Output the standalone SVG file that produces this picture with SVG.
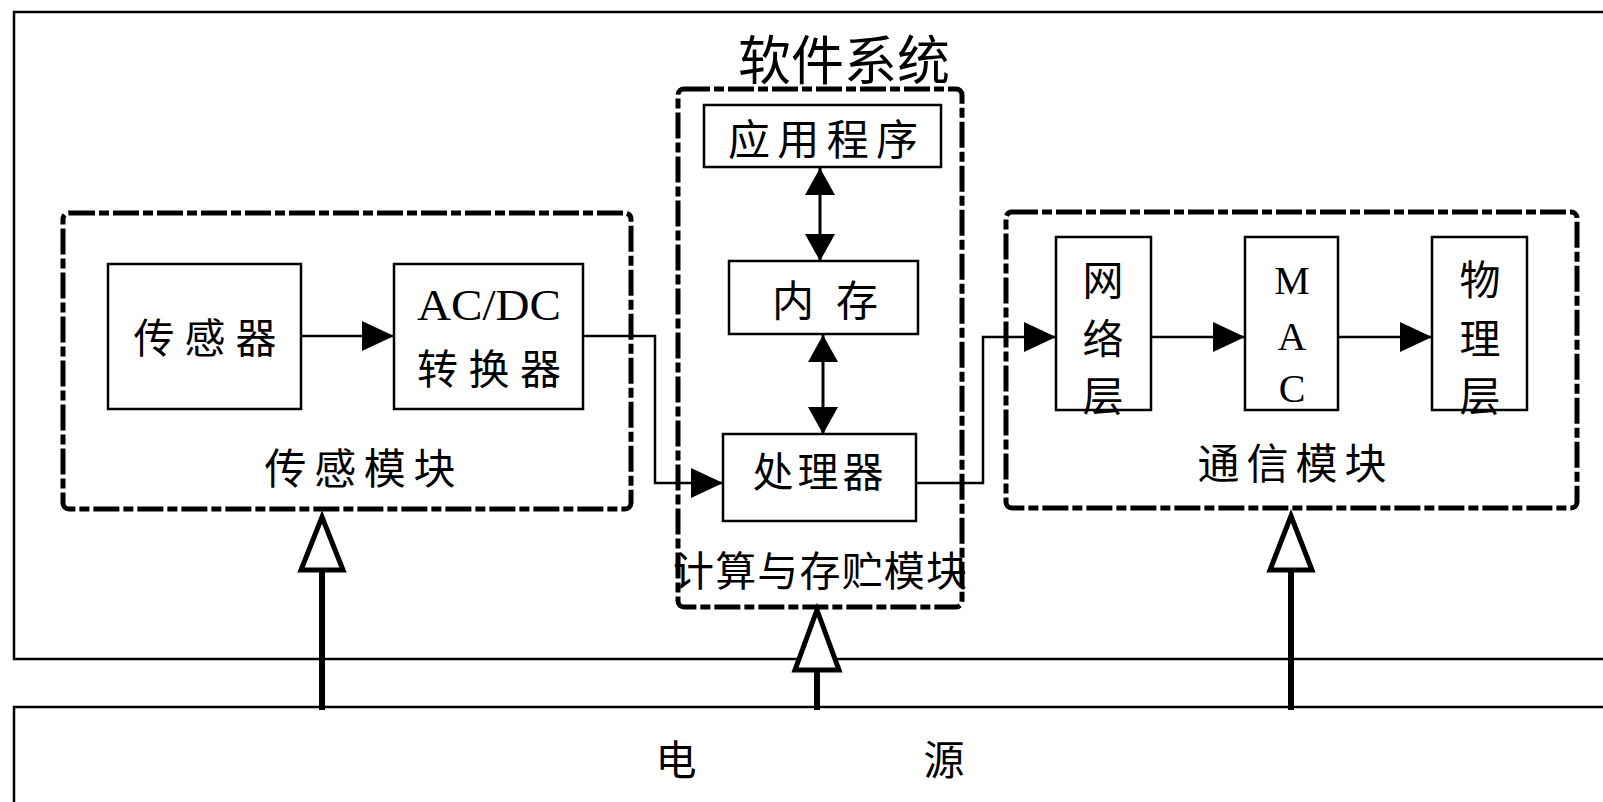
<svg xmlns="http://www.w3.org/2000/svg" width="1603" height="802" viewBox="0 0 1603 802">
<style>
.frame{fill:none;stroke:#000;stroke-width:2.5}
.mod{fill:none;stroke:#000;stroke-width:5;stroke-dasharray:26 4 10 4}
.box{fill:#fff;stroke:#000;stroke-width:2.5}
.cn{font-family:"Noto Sans CJK SC","Noto Sans CJK JP",sans-serif;fill:#000;dominant-baseline:central;text-anchor:middle}
.lat{font-family:"Liberation Serif",serif;fill:#000;dominant-baseline:central;text-anchor:middle}
.line{fill:none;stroke:#000;stroke-width:2.5}
.dbl{fill:none;stroke:#000;stroke-width:3}
.pstem{fill:none;stroke:#000;stroke-width:6}
.phead{fill:#fff;stroke:#000;stroke-width:5;stroke-linejoin:miter}
</style>
<defs>
<marker id="ah" markerUnits="userSpaceOnUse" markerWidth="34" markerHeight="32" refX="32" refY="16" orient="auto-start-reverse" viewBox="0 0 34 32">
<path d="M0,1 L32,16 L0,31 z" fill="#000"/>
</marker>
<marker id="ah2" markerUnits="userSpaceOnUse" markerWidth="28" markerHeight="32" refX="27" refY="16" orient="auto-start-reverse" viewBox="0 0 28 32">
<path d="M0,1 L27,16 L0,31 z" fill="#000"/>
</marker>
</defs>
<rect width="1603" height="802" fill="#fff"/>

<g id="outer-frame">
<path class="frame" d="M1603,12 H14 V659 H1603"/>
</g>

<g id="power">
<path class="frame" d="M1603,707 H14 V802"/>
<text class="cn" x="676" y="757" font-size="41">电</text>
<text class="cn" x="944" y="757" font-size="41">源</text>
</g>

<g id="sensing-module">
<rect class="mod" x="63" y="213" width="568" height="296" rx="6"/>
<text class="cn" x="360" y="465" font-size="42" textLength="191" lengthAdjust="spacing">传感模块</text>
</g>
<g id="sensor">
<rect class="box" x="108" y="264" width="193" height="145"/>
<text class="cn" x="205" y="335" font-size="41" textLength="143" lengthAdjust="spacing">传感器</text>
</g>
<g id="acdc">
<rect class="box" x="394" y="264" width="189" height="145"/>
<text class="lat" x="489" y="305" font-size="44" textLength="144" lengthAdjust="spacingAndGlyphs">AC/DC</text>
<text class="cn" x="489" y="366" font-size="41" textLength="144" lengthAdjust="spacing">转换器</text>
</g>

<g id="compute-module">
<rect class="mod" x="678" y="89" width="284" height="518" rx="6"/>
<text class="cn" x="844" y="57" font-size="53" textLength="212" lengthAdjust="spacing">软件系统</text>
<text class="cn" x="820" y="568" font-size="41" textLength="294" lengthAdjust="spacing">计算与存贮模块</text>
</g>
<g id="app">
<rect class="box" x="704" y="105" width="237" height="62"/>
<text class="cn" x="823" y="136" font-size="42" textLength="190" lengthAdjust="spacing">应用程序</text>
</g>
<g id="memory">
<rect class="box" x="729" y="261" width="189" height="73"/>
<text class="cn" x="825" y="297" font-size="42" textLength="106" lengthAdjust="spacing">内 存</text>
</g>
<g id="processor">
<rect class="box" x="723" y="434" width="193" height="87"/>
<text class="cn" x="818" y="469" font-size="41" textLength="131" lengthAdjust="spacing">处理器</text>
</g>

<g id="comm-module">
<rect class="mod" x="1006" y="212" width="571" height="296" rx="6"/>
<text class="cn" x="1292" y="460" font-size="42" textLength="189" lengthAdjust="spacing">通信模块</text>
</g>
<g id="network-layer">
<rect class="box" x="1056" y="237" width="95" height="173"/>
<text class="cn" x="1103" y="277" font-size="41">网</text>
<text class="cn" x="1103" y="336" font-size="41">络</text>
<text class="cn" x="1103" y="393" font-size="41">层</text>
</g>
<g id="mac">
<rect class="box" x="1245" y="237" width="93" height="173"/>
<text class="lat" x="1292" y="280" font-size="40">M</text>
<text class="lat" x="1292" y="336" font-size="40">A</text>
<text class="lat" x="1292" y="388" font-size="40">C</text>
</g>
<g id="physical-layer">
<rect class="box" x="1432" y="237" width="95" height="173"/>
<text class="cn" x="1480" y="277" font-size="41">物</text>
<text class="cn" x="1480" y="336" font-size="41">理</text>
<text class="cn" x="1480" y="393" font-size="41">层</text>
</g>

<g id="connectors">
<path class="line" d="M301,336 H394" marker-end="url(#ah)"/>
<path class="line" d="M583,336 H655 V483 H723" marker-end="url(#ah)"/>
<path class="line" d="M916,483 H983 V337 H1056" marker-end="url(#ah)"/>
<path class="line" d="M1151,337 H1245" marker-end="url(#ah)"/>
<path class="line" d="M1338,337 H1432" marker-end="url(#ah)"/>
<path class="dbl" d="M820,168 V261" marker-start="url(#ah2)" marker-end="url(#ah2)"/>
<path class="dbl" d="M823,335 V434" marker-start="url(#ah2)" marker-end="url(#ah2)"/>
<path class="pstem" d="M322,570 V710"/>
<path class="phead" d="M322,517 L343,570 L301,570 z"/>
<path class="pstem" d="M817,670 V710"/>
<path class="phead" d="M817,610 L839,670 L795,670 z"/>
<path class="pstem" d="M1291,570 V710"/>
<path class="phead" d="M1291,516 L1312,570 L1270,570 z"/>
</g>
</svg>
